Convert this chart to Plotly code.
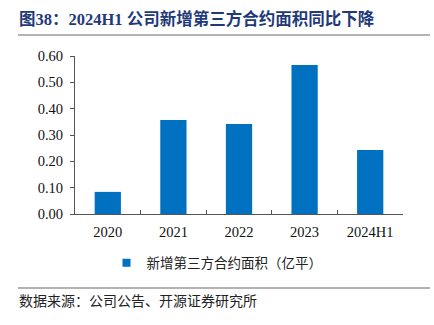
import plotly.graph_objects as go

categories = ["2020", "2021", "2022", "2023", "2024H1"]
values = [0.084, 0.357, 0.342, 0.566, 0.243]
series_name = "新增第三方合约面积（亿平）"
title_text = "图38：2024H1 公司新增第三方合约面积同比下降"
source_text = "数据来源：公司公告、开源证券研究所"
y_ticks = [0, 0.1, 0.2, 0.3, 0.4, 0.5, 0.6]

W, H = 434, 325
L, R, T, B = 75, 31, 56, 111
BAR_COLOR = "#0070C0"

fig = go.Figure()
fig.add_trace(go.Bar(
    x=categories, y=values, name=series_name,
    marker=dict(color=BAR_COLOR, line=dict(width=0)),
    width=0.4, showlegend=False,
))
# legend entry with a small square symbol, like the reference
fig.add_trace(go.Scatter(
    x=[None], y=[None], mode="markers", name=series_name,
    marker=dict(symbol="square", size=8, color=BAR_COLOR),
    showlegend=True,
))

serif = "Times New Roman, Liberation Serif, Noto Sans CJK SC, serif"
cjk = "Noto Sans CJK SC, sans-serif"

fig.update_layout(
    width=W, height=H,
    margin=dict(l=L, r=R, t=T, b=B),
    paper_bgcolor="white", plot_bgcolor="white",
    showlegend=True,
    legend=dict(orientation="h", x=(217 - L) / (W - L - R), xanchor="center",
                y=-(263 - (H - B)) / (H - T - B), yanchor="middle",
                font=dict(family=cjk, size=13.5, color="#222"),
                itemwidth=30, traceorder="normal"),
    xaxis=dict(type="category", showline=True, linecolor="#555", linewidth=1,
               ticks="inside", tickson="boundaries", ticklen=4, tickcolor="#555",
               tickfont=dict(family=serif, size=14.5, color="#111"),
               ticklabelstandoff=5,
               showgrid=False, zeroline=False),
    yaxis=dict(range=[0, 0.6], tickvals=y_ticks,
               ticktext=[f"{v:.2f}" for v in y_ticks],
               showline=True, linecolor="#555", linewidth=1,
               ticks="outside", ticklen=4, tickcolor="#555",
               tickfont=dict(family=serif, size=14.5, color="#111"),
               ticklabelstandoff=4,
               showgrid=False, zeroline=False),
    bargap=0.6,
)

fig.add_annotation(text="<b>" + title_text + "</b>", xref="paper", yref="paper",
                   x=-(L - 17) / (W - L - R), y=1 + (T - 19) / (H - T - B),
                   xanchor="left", yanchor="middle", showarrow=False,
                   font=dict(family="Times New Roman, Liberation Serif, Noto Sans CJK SC", size=16.5, color="#1F3A78"))
fig.add_annotation(text=source_text, xref="paper", yref="paper",
                   x=-(L - 17) / (W - L - R), y=-(300 - (H - B)) / (H - T - B),
                   xanchor="left", yanchor="middle", showarrow=False,
                   font=dict(family=cjk, size=14, color="#222"))

def px_to_paper_y(py):
    return 1 - (py - T) / (H - T - B)

def px_to_paper_x(px):
    return (px - L) / (W - L - R)

for yy in (35, 288):
    fig.add_shape(type="line", xref="paper", yref="paper",
                  x0=px_to_paper_x(18), x1=px_to_paper_x(430),
                  y0=px_to_paper_y(yy), y1=px_to_paper_y(yy),
                  line=dict(color="#666", width=1))

fig.write_html("out.html")
